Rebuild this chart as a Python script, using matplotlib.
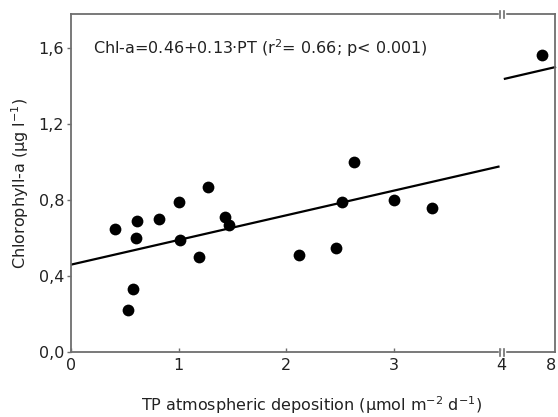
import matplotlib
matplotlib.use("Agg")
import matplotlib.pyplot as plt
from matplotlib.lines import Line2D
import matplotlib.transforms as mtransforms
import numpy as np

plt.rcParams['font.family'] = ['DejaVu Sans']

# ---- data ----
tp_main = [0.41, 0.61, 0.60, 0.82, 1.00, 1.01, 1.27, 1.19, 1.43, 1.47,
           0.58, 0.53, 2.12, 2.46, 2.52, 2.63, 3.00, 3.35]
chl_main = [0.65, 0.69, 0.60, 0.70, 0.79, 0.59, 0.87, 0.50, 0.71, 0.67,
            0.33, 0.22, 0.51, 0.55, 0.79, 1.00, 0.80, 0.76]
tp_high = [7.88]
chl_high = [1.565]
intercept = 0.46
slope = 0.13
yticks = [0.0, 0.4, 0.8, 1.2, 1.6]
ytick_labels = ["0,0", "0,4", "0,8", "1,2", "1,6"]
xticks_main = [0, 1, 2, 3, 4]
xticks_high = [8]
equation = "Chl-a=0.46+0.13·PT (r$^2$= 0.66; p< 0.001)"

W, H = 558, 417
fig = plt.figure(figsize=(W / 100, H / 100), dpi=100)

left, right, top, bottom = 71, 555, 14, 352
brk = 501.7
ax = fig.add_axes([left / W, 1 - bottom / H, (brk - left) / W, (bottom - top) / H])
ax2 = fig.add_axes([brk / W, 1 - bottom / H, (right - brk) / W, (bottom - top) / H], sharey=ax)

spine_col = "#6e6e6e"
txt_col = "#222222"
fs = 11.5
for a in (ax, ax2):
    for s in a.spines.values():
        s.set_color(spine_col)
        s.set_linewidth(1.3)
    a.set_ylim(0, 1.78)
ax.spines['right'].set_visible(False)
ax2.spines['left'].set_visible(False)

ax.set_xlim(0, 4)
ax2.set_xlim(7.5, 8.0)

ax.scatter(tp_main, chl_main, s=72, color="black", zorder=3, linewidths=0)
ax2.scatter(tp_high, chl_high, s=72, color="black", zorder=3, linewidths=0, clip_on=False)

xl = np.array([0.0, 3.97])
ax.plot(xl, intercept + slope * xl, color="black", lw=1.6)
xr = np.array([7.53, 8.0])
ax2.plot(xr, intercept + slope * xr, color="black", lw=1.6, clip_on=False)

ax.set_yticks(yticks)
ax.set_yticklabels(ytick_labels, fontsize=fs, color=txt_col)
ax.tick_params(axis='y', direction='out', length=3, width=1, color=spine_col, pad=2)
ax.set_xticks(xticks_main)
ax.set_xticklabels([str(v) for v in xticks_main], fontsize=fs, color=txt_col)
ax.tick_params(axis='x', direction='in', length=3, width=1, color=spine_col, pad=4)

ax2.set_xticks(xticks_high)
ax2.set_xticklabels([str(v) for v in xticks_high], fontsize=fs, color=txt_col)
ax2.tick_params(axis='x', direction='in', length=0, pad=4)
ax2.tick_params(axis='y', left=False, labelleft=False, right=False)
shift = mtransforms.ScaledTranslation(-4 / 100, 0, fig.dpi_scale_trans)
for lab in ax2.get_xticklabels():
    lab.set_transform(lab.get_transform() + shift)

fig.text(93 / W, 1 - 48 / H, equation, fontsize=fs, color=txt_col,
         va='center', ha='left')

fig.text(312 / W, 1 - 405 / H,
         "TP atmospheric deposition (µmol m$^{-2}$ d$^{-1}$)",
         fontsize=fs, color=txt_col, ha='center', va='center')
fig.text(20 / W, 1 - 183 / H, "Chlorophyll-a (µg l$^{-1}$)",
         fontsize=fs, color=txt_col, ha='center', va='center', rotation=90)

# break marks on top and bottom spines
for yy in (top, bottom):
    yf = 1 - yy / H
    fig.add_artist(Line2D([(brk - 1.8) / W, (brk + 1.8) / W], [yf, yf],
                          transform=fig.transFigure, color="white", lw=2.5, zorder=10))
    for dx in (-2.2, 2.2):
        fig.add_artist(Line2D([(brk + dx) / W, (brk + dx) / W],
                              [yf - 3.5 / H, yf + 3.5 / H],
                              transform=fig.transFigure, color=spine_col, lw=1.2, zorder=11))

fig.savefig("out.png", dpi=100)
